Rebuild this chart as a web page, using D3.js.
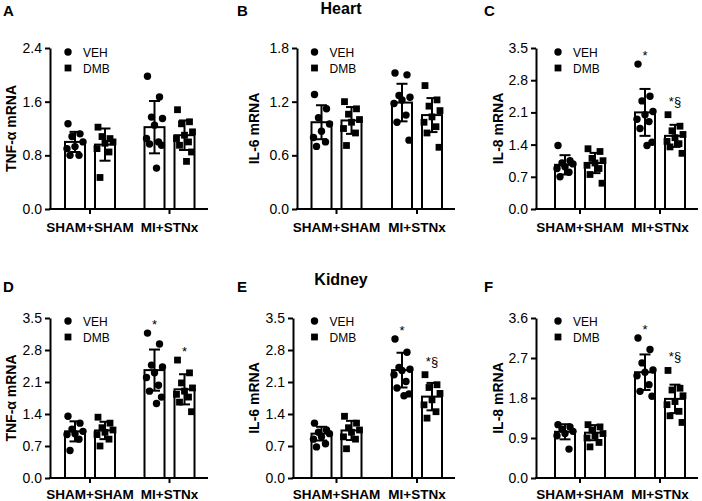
<!DOCTYPE html>
<html><head><meta charset="utf-8">
<script src="https://cdn.jsdelivr.net/npm/d3@7"></script>
<style>
body{margin:0;background:#fff}
svg{display:block}
text{font-family:Arial,"Liberation Sans",sans-serif;fill:#000}
</style>
</head><body><svg id="c" width="702" height="501"></svg>
<script>
// ---------------- DATA ----------------
const groups = ["SHAM+SHAM", "MI+STNx"];
const treatments = ["VEH", "DMB"];

// Panel A – Heart TNF-α
const A_ticks = [0, 0.8, 1.6, 2.4];
const A_veh = [[1.27, 1.12, 1.08, 1.00, 0.93, 0.90, 0.80, 0.80],
               [1.98, 1.67, 1.37, 1.35, 1.25, 1.05, 1.00, 0.97, 0.95, 0.61]];
const A_dmb = [[1.22, 1.05, 1.08, 1.00, 0.98, 0.90, 0.85, 0.47],
               [1.48, 1.30, 1.27, 1.15, 1.10, 1.05, 1.00, 0.95, 0.85, 0.71]];
const A_mean = [[1.00, 0.96], [1.22, 1.10]];
const A_sd = [[0.15, 0.24], [0.39, 0.22]];
const A_sig = [["", ""], ["", ""]];

// Panel B – Heart IL-6
const B_ticks = [0, 0.6, 1.2, 1.8];
const B_veh = [[1.28, 1.12, 1.02, 0.95, 0.87, 0.80, 0.75, 0.70],
               [1.52, 1.50, 1.27, 1.25, 1.22, 1.18, 1.05, 0.97, 0.77]];
const B_dmb = [[1.20, 1.12, 1.06, 1.00, 0.97, 0.90, 0.85, 0.71],
               [1.38, 1.22, 1.15, 1.10, 1.03, 0.97, 0.92, 0.85, 0.69]];
const B_mean = [[0.97, 0.99], [1.19, 1.05]];
const B_sd = [[0.19, 0.15], [0.21, 0.19]];
const B_sig = [["", ""], ["", ""]];

// Panel C – Heart IL-8
const C_ticks = [0, 0.7, 1.4, 2.1, 2.8, 3.5];
const C_veh = [[1.38, 1.05, 1.00, 0.98, 0.92, 0.88, 0.80, 0.70],
               [3.15, 2.45, 2.35, 2.12, 2.05, 1.95, 1.90, 1.75, 1.45, 1.38]];
const C_dmb = [[1.31, 1.25, 1.10, 1.05, 1.00, 0.95, 0.88, 0.75, 0.56],
               [2.05, 1.80, 1.70, 1.62, 1.55, 1.47, 1.42, 1.35, 1.21]];
const C_mean = [[0.96, 1.00], [2.10, 1.59]];
const C_sd = [[0.21, 0.22], [0.51, 0.24]];
const C_sig = [["", ""], ["*", "*§"]];

// Panel D – Kidney TNF-α
const D_ticks = [0, 0.7, 1.4, 2.1, 2.8, 3.5];
const D_veh = [[1.35, 1.20, 1.07, 1.02, 0.97, 0.95, 0.85, 0.60],
               [3.17, 2.93, 2.47, 2.43, 2.30, 2.20, 2.03, 1.90, 1.77, 1.63]];
const D_dmb = [[1.33, 1.20, 1.10, 1.05, 1.00, 0.95, 0.85, 0.70],
               [2.58, 2.30, 2.08, 1.97, 1.90, 1.83, 1.77, 1.66, 1.45]];
const D_mean = [[1.02, 1.04], [2.36, 1.94]];
const D_sd = [[0.22, 0.19], [0.45, 0.33]];
const D_sig = [["", ""], ["*", "*"]];

// Panel E – Kidney IL-6
const E_ticks = [0, 0.7, 1.4, 2.1, 2.8, 3.5];
const E_veh = [[1.20, 1.05, 1.00, 0.97, 0.90, 0.85, 0.75, 0.68],
               [3.04, 2.75, 2.42, 2.38, 2.35, 2.26, 2.11, 1.97, 1.84, 1.80]];
const E_dmb = [[1.35, 1.20, 1.10, 1.05, 1.00, 0.90, 0.85, 0.64],
               [2.26, 2.04, 1.98, 1.85, 1.71, 1.60, 1.45, 1.31]];
const E_mean = [[0.97, 1.04], [2.36, 1.78]];
const E_sd = [[0.15, 0.21], [0.38, 0.30]];
const E_sig = [["", ""], ["*", "*§"]];

// Panel F – Kidney IL-8
const F_ticks = [0, 0.9, 1.8, 2.7, 3.6];
const F_veh = [[1.20, 1.15, 1.10, 1.05, 1.00, 0.95, 0.65],
               [3.15, 2.89, 2.59, 2.43, 2.38, 2.30, 2.10, 1.95, 1.84]];
const F_dmb = [[1.20, 1.15, 1.08, 1.00, 0.95, 0.90, 0.80, 0.70],
               [2.42, 2.02, 1.98, 1.85, 1.72, 1.65, 1.50, 1.40, 1.25]];
const F_mean = [[1.04, 1.02], [2.38, 1.78]];
const F_sd = [[0.17, 0.17], [0.40, 0.32]];
const F_sig = [["", ""], ["*", "*§"]];

const letters = ["A", "B", "C", "D", "E", "F"];
const yTitles = ["TNF-α mRNA", "IL-6 mRNA", "IL-8 mRNA", "TNF-α mRNA", "IL-6 mRNA", "IL-8 mRNA"];
const rowTitles = ["Heart", "Kidney"];

// ---------------- LAYOUT ----------------
const cols = [
  {axisX: [50, 50], xEnd: 208, g: [90, 169.5], titleX: 11, letterX: 3},
  {axisX: [297, 293], xEnd: 455, g: [336.5, 417], titleX: 254, letterX: 237},
  {axisX: [536, 536], xEnd: 698, g: [580, 660], titleX: 498, letterX: 484}
];
const rows = [
  {top: 48, bottom: 209, catY: 232, letterY: 16, legY: 52, headY: 14},
  {top: 318, bottom: 478, catY: 499, letterY: 292, legY: 321, headY: 285}
];
const jitter = [-7, 5, -3, 8, 0, -8, 4, -5, 7, 2];

const panels = [
  {ticks: A_ticks, veh: A_veh, dmb: A_dmb, mean: A_mean, sd: A_sd, sig: A_sig},
  {ticks: B_ticks, veh: B_veh, dmb: B_dmb, mean: B_mean, sd: B_sd, sig: B_sig},
  {ticks: C_ticks, veh: C_veh, dmb: C_dmb, mean: C_mean, sd: C_sd, sig: C_sig},
  {ticks: D_ticks, veh: D_veh, dmb: D_dmb, mean: D_mean, sd: D_sd, sig: D_sig},
  {ticks: E_ticks, veh: E_veh, dmb: E_dmb, mean: E_mean, sd: E_sd, sig: E_sig},
  {ticks: F_ticks, veh: F_veh, dmb: F_dmb, mean: F_mean, sd: F_sd, sig: F_sig}
];

const svg = d3.select("#c");

function drawPoint(g, type, cx, cy) {
  if (type === "VEH") {
    g.append("circle").attr("cx", cx).attr("cy", cy).attr("r", 3.7).attr("fill", "#000");
  } else {
    g.append("rect").attr("x", cx - 3.4).attr("y", cy - 3.4).attr("width", 6.8).attr("height", 6.8).attr("fill", "#000");
  }
}

panels.forEach((p, i) => {
  const C = cols[i % 3], R = rows[Math.floor(i / 3)];
  const axisX = C.axisX[Math.floor(i / 3)];
  const g = svg.append("g");
  const y = d3.scaleLinear().domain([0, d3.max(p.ticks)]).range([R.bottom, R.top]);
  const x = d3.scalePoint().domain(groups).range(C.g);
  const xs = d3.scaleBand().domain(treatments).range([-26, 26]).paddingInner(8 / 30);
  const bw = xs.bandwidth();

  // bars, error bars, points
  groups.forEach((grp, gi) => {
    treatments.forEach((t, ti) => {
      const m = p.mean[gi][ti], s = p.sd[gi][ti];
      const x0 = x(grp) + xs(t), cx = x0 + bw / 2;
      g.append("rect").attr("x", x0 + 1).attr("y", y(m)).attr("width", bw - 2)
        .attr("height", y(0) - y(m)).attr("fill", "#fff").attr("stroke", "#000").attr("stroke-width", 2);
      const pts = (t === "VEH" ? p.veh : p.dmb)[gi];
      pts.forEach((v, k) => drawPoint(g, t, cx + jitter[k % jitter.length], y(v)));
      const eb = g.append("g").attr("stroke", "#000").attr("stroke-width", 2);
      eb.append("line").attr("x1", cx).attr("x2", cx).attr("y1", y(m - s)).attr("y2", y(m + s));
      eb.append("line").attr("x1", cx - 5.5).attr("x2", cx + 5.5).attr("y1", y(m + s)).attr("y2", y(m + s));
      eb.append("line").attr("x1", cx - 5.5).attr("x2", cx + 5.5).attr("y1", y(m - s)).attr("y2", y(m - s));
      const sig = p.sig[gi][ti];
      if (sig) {
        const top = y(d3.max(pts));
        g.append("text").attr("x", cx).attr("y", top - (sig.length > 1 ? 9 : 4))
          .attr("text-anchor", "middle").style("font-size", "13px").text(sig);
      }
    });
  });

  // y axis
  const ya = g.append("g").attr("transform", `translate(${axisX},0)`)
    .call(d3.axisLeft(y).tickValues(p.ticks).tickFormat(d3.format(".1f")).tickSize(5).tickSizeOuter(0).tickPadding(3));
  ya.select(".domain").attr("stroke-width", 2);
  ya.selectAll(".tick line").attr("stroke-width", 2);
  ya.selectAll(".tick text").style("font-size", "14px").style("font-family", "Arial, 'Liberation Sans', sans-serif").attr("fill", "#000");

  // x axis
  g.append("line").attr("x1", axisX - 1).attr("x2", C.xEnd).attr("y1", y(0)).attr("y2", y(0))
    .attr("stroke", "#000").attr("stroke-width", 2);
  groups.forEach(grp => {
    g.append("line").attr("x1", x(grp)).attr("x2", x(grp)).attr("y1", y(0)).attr("y2", y(0) + 5)
      .attr("stroke", "#000").attr("stroke-width", 2);
    g.append("text").attr("x", x(grp)).attr("y", R.catY).attr("text-anchor", "middle")
      .style("font-size", "13.5px").style("font-weight", "bold").text(grp);
  });

  // y title
  g.append("text").attr("transform", `translate(${C.titleX},${(R.top + R.bottom) / 2}) rotate(-90)`)
    .attr("text-anchor", "middle").attr("dominant-baseline", "central")
    .style("font-size", "14px").style("font-weight", "bold").text(yTitles[i]);

  // legend
  const lx = x(groups[0]) + xs("VEH") + bw / 2 - 7;
  treatments.forEach((t, ti) => {
    const ly = R.legY + ti * 16;
    drawPoint(g, t, lx, ly);
    g.append("text").attr("x", lx + 15).attr("y", ly + 4.5).style("font-size", "12px").text(t);
  });

  // panel letter
  g.append("text").attr("x", C.letterX).attr("y", R.letterY)
    .style("font-size", "15px").style("font-weight", "bold").text(letters[i]);

  // row heading in middle column
  if (i % 3 === 1) {
    g.append("text").attr("x", 341).attr("y", R.headY).attr("text-anchor", "middle")
      .style("font-size", "16px").style("font-weight", "bold").text(rowTitles[Math.floor(i / 3)]);
  }
});
</script>
</body></html>
